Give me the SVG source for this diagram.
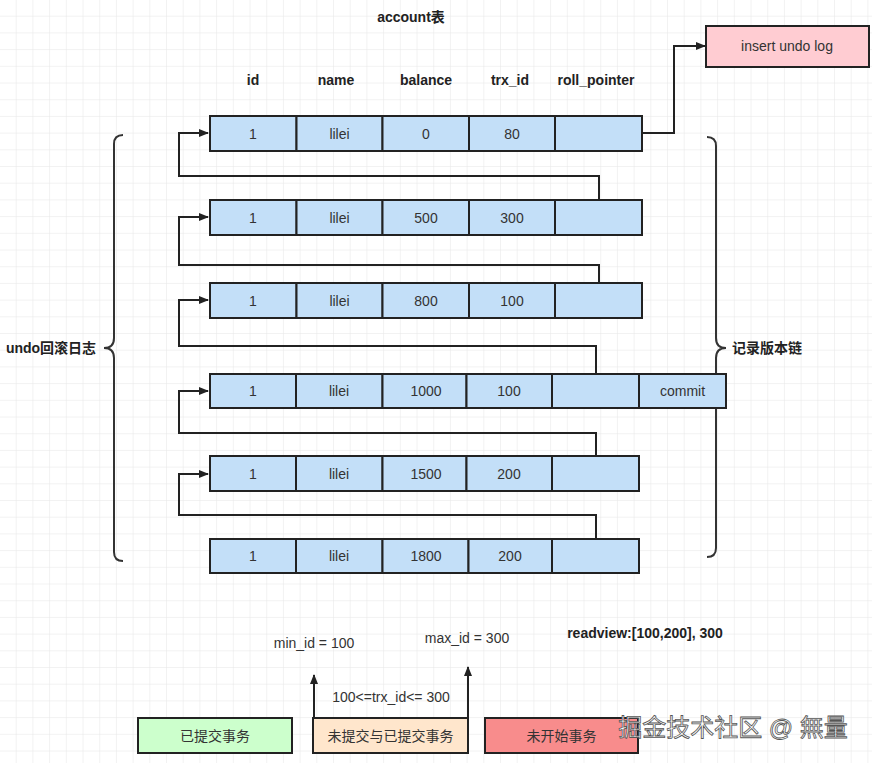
<svg xmlns="http://www.w3.org/2000/svg" width="872" height="763" viewBox="0 0 872 763">
<defs>
<pattern id="grid" width="16.7" height="16.7" patternUnits="userSpaceOnUse">
<path d="M16.7 0V16.7H0" fill="none" stroke="#e6e6e6" stroke-width="1"/>
</pattern>
<marker id="arr" markerWidth="10" markerHeight="8" refX="9" refY="4" orient="auto" markerUnits="userSpaceOnUse">
<path d="M0 0L10 4L0 8Z" fill="#222"/>
</marker>
<style>
text{font-family:"Liberation Sans","Noto Sans CJK SC",sans-serif;font-size:14px;fill:#333;text-anchor:middle;dominant-baseline:central}
.b{font-weight:bold;fill:#222}
.cell{fill:#c3dff8;stroke:#222;stroke-width:2}
.ln{fill:none;stroke:#222;stroke-width:2}
.br{fill:none;stroke:#333;stroke-width:2}
</style>
</defs>
<rect width="872" height="763" fill="#fff"/>
<rect width="872" height="763" fill="url(#grid)"/>

<text class="b" x="411" y="17">account表</text>
<g id="headers">
<text class="b" x="253" y="80">id</text>
<text class="b" x="336" y="80">name</text>
<text class="b" x="426" y="80">balance</text>
<text class="b" x="510" y="80">trx_id</text>
<text class="b" x="596" y="80">roll_pointer</text>
</g>

<g id="brace-left">
<path class="br" d="M123 135Q114 135 114 144V338Q114 348 104 348Q114 348 114 358V552Q114 561 123 561"/>
<text class="b" x="51" y="348">undo回滚日志</text>
</g>
<g id="brace-right">
<path class="br" d="M707 137Q716 137 716 146V338Q716 348 726 348Q716 348 716 358V548Q716 557 707 557"/>
<text class="b" x="767" y="348">记录版本链</text>
</g>

<g id="connectors">
<path class="ln" d="M642 133H674V46H705" marker-end="url(#arr)"/>
<path class="ln" d="M599 200V176H179V133H208" marker-end="url(#arr)"/>
<path class="ln" d="M599 283V265H179V217H208" marker-end="url(#arr)"/>
<path class="ln" d="M596 374V346H179V300H208" marker-end="url(#arr)"/>
<path class="ln" d="M596 456V433H179V391H208" marker-end="url(#arr)"/>
<path class="ln" d="M596 539V515H179V474H208" marker-end="url(#arr)"/>
<path class="ln" d="M314 718V675" marker-end="url(#arr)"/>
<path class="ln" d="M468 718V667" marker-end="url(#arr)"/>
</g>

<g id="insert-undo-log">
<rect x="706" y="26" width="163" height="41" fill="#ffccd2" stroke="#222" stroke-width="2"/>
<text x="787" y="46">insert undo log</text>
</g>

<g id="row1">
<rect class="cell" x="210" y="116" width="86.5" height="35"/>
<rect class="cell" x="296.5" y="116" width="86" height="35"/>
<rect class="cell" x="382.5" y="116" width="86.5" height="35"/>
<rect class="cell" x="469" y="116" width="86" height="35"/>
<rect class="cell" x="555" y="116" width="87" height="35"/>
<text x="253" y="133.5">1</text><text x="339.5" y="133.5">lilei</text><text x="426" y="133.5">0</text><text x="512" y="133.5">80</text>
</g>
<g id="row2">
<rect class="cell" x="210" y="200" width="86.5" height="35"/>
<rect class="cell" x="296.5" y="200" width="86" height="35"/>
<rect class="cell" x="382.5" y="200" width="86.5" height="35"/>
<rect class="cell" x="469" y="200" width="86" height="35"/>
<rect class="cell" x="555" y="200" width="87" height="35"/>
<text x="253" y="217.5">1</text><text x="339.5" y="217.5">lilei</text><text x="426" y="217.5">500</text><text x="512" y="217.5">300</text>
</g>
<g id="row3">
<rect class="cell" x="210" y="283" width="86.5" height="35"/>
<rect class="cell" x="296.5" y="283" width="86" height="35"/>
<rect class="cell" x="382.5" y="283" width="86.5" height="35"/>
<rect class="cell" x="469" y="283" width="86" height="35"/>
<rect class="cell" x="555" y="283" width="87" height="35"/>
<text x="253" y="300.5">1</text><text x="339.5" y="300.5">lilei</text><text x="426" y="300.5">800</text><text x="512" y="300.5">100</text>
</g>
<g id="row4">
<rect class="cell" x="210" y="374" width="86" height="34"/>
<rect class="cell" x="296" y="374" width="86.5" height="34"/>
<rect class="cell" x="382.5" y="374" width="84" height="34"/>
<rect class="cell" x="466.5" y="374" width="85.5" height="34"/>
<rect class="cell" x="552" y="374" width="87" height="34"/>
<rect class="cell" x="639" y="374" width="87" height="34"/>
<text x="253" y="391">1</text><text x="339" y="391">lilei</text><text x="426" y="391">1000</text><text x="509" y="391">100</text><text x="682.5" y="391">commit</text>
</g>
<g id="row5">
<rect class="cell" x="210" y="456" width="86" height="35"/>
<rect class="cell" x="296" y="456" width="86.5" height="35"/>
<rect class="cell" x="382.5" y="456" width="84" height="35"/>
<rect class="cell" x="466.5" y="456" width="85.5" height="35"/>
<rect class="cell" x="552" y="456" width="87" height="35"/>
<text x="253" y="473.5">1</text><text x="339" y="473.5">lilei</text><text x="426" y="473.5">1500</text><text x="509" y="473.5">200</text>
</g>
<g id="row6">
<rect class="cell" x="210" y="539" width="86" height="34"/>
<rect class="cell" x="296" y="539" width="86.5" height="34"/>
<rect class="cell" x="382.5" y="539" width="86" height="34"/>
<rect class="cell" x="468.5" y="539" width="83.5" height="34"/>
<rect class="cell" x="552" y="539" width="87" height="34"/>
<text x="253" y="556">1</text><text x="339" y="556">lilei</text><text x="426" y="556">1800</text><text x="510" y="556">200</text>
</g>

<g id="labels">
<text x="314" y="643">min_id = 100</text>
<text x="467" y="638">max_id = 300</text>
<text class="b" x="645" y="633">readview:[100,200], 300</text>
<text x="391" y="697">100&lt;=trx_id&lt;= 300</text>
</g>

<g id="committed">
<rect x="138" y="718" width="154" height="35" fill="#ccffcc" stroke="#222" stroke-width="2"/>
<text x="215" y="735.5">已提交事务</text>
</g>
<g id="mixed">
<rect x="313" y="718" width="155" height="35" fill="#ffe6cc" stroke="#222" stroke-width="2"/>
<text x="390.5" y="735.5">未提交与已提交事务</text>
</g>
<g id="notstarted">
<rect x="485" y="718" width="153" height="35" fill="#f88c8c" stroke="#222" stroke-width="2"/>
<text x="561.5" y="735.5">未开始事务</text>
</g>

<text x="733" y="727" style="font-size:24px;fill:#fff;stroke:#555;stroke-width:0.8">掘金技术社区 @ 無量</text>
</svg>
